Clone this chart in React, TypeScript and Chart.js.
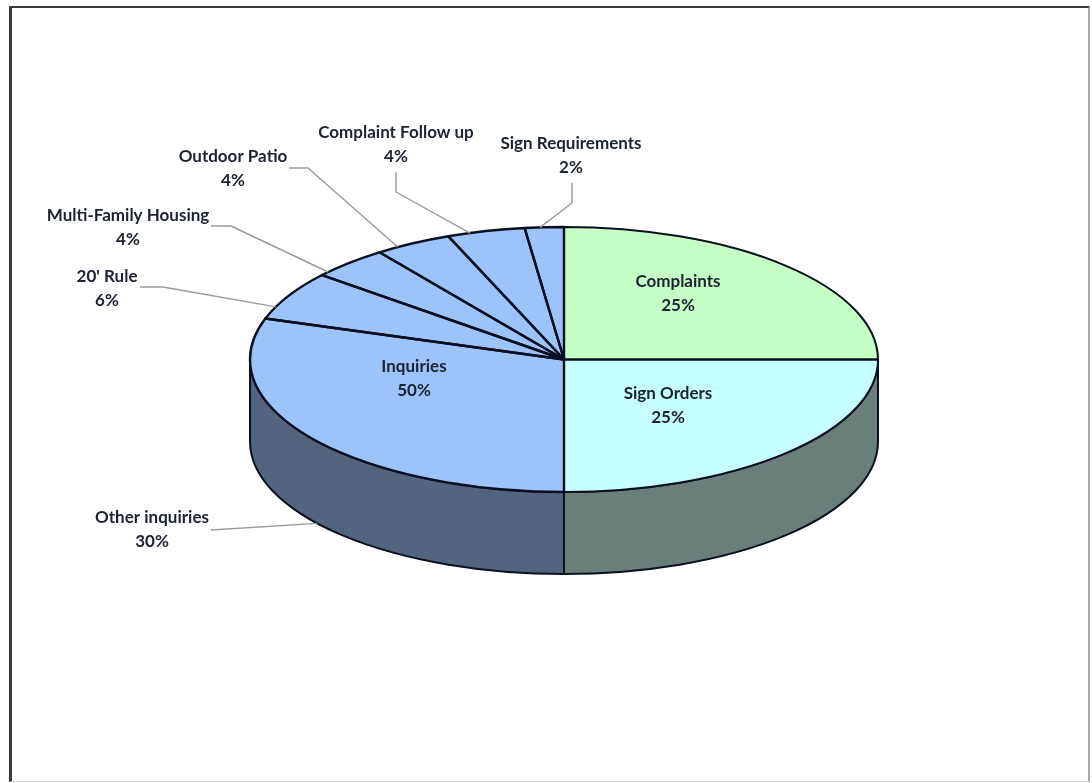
import React, { useEffect, useRef } from "react";
import { Chart, registerables } from "chart.js";

Chart.register(...registerables);

// Slices run clockwise from twelve o'clock.
const categories = [
  "Complaints",
  "Sign Orders",
  "Other inquiries",
  "20' Rule",
  "Multi-Family Housing",
  "Outdoor Patio",
  "Complaint Follow up",
  "Sign Requirements",
];
const shares = [25, 25, 30, 6, 4, 4, 4, 2];
const topColors = ["#c6ffc6", "#c6ffff", "#9dc3fb", "#9dc3fb", "#9dc3fb", "#9dc3fb", "#9dc3fb", "#9dc3fb"];
const wallColors = ["#6b7f7a", "#6b7f7a", "#536480", "#536480", "#536480", "#536480", "#536480", "#536480"];

// The group label sits on the blue area and covers all of the inquiry slices.
const groupName = "Inquiries";
const groupShare = 50;

const WIDTH = 1092;
const HEIGHT = 783;
const CX = 564;
const CY = 359.5;
const RADIUS = 314;
const TILT = 132.5 / 314;
const DEPTH = 82;
const LINE_GAP = 24;
const FONT = "bold 17px Lato, sans-serif";
const TEXT_COLOR = "#1b2230";
const EDGE_COLOR = "#0b1020";
const LEADER_COLOR = "#9a9a9a";

// Text centres for each slice, with leader elbows and where along the slice's rim the leader lands.
const callouts = [
  { x: 678, y: 282 },
  { x: 668, y: 394 },
  { x: 152, y: 518, elbows: [[211, 530]], along: 0.48 },
  { x: 107, y: 277, elbows: [[140, 287], [163, 287]], along: 0.25 },
  { x: 128, y: 216, elbows: [[211, 226], [231, 226]], along: 0.12 },
  { x: 233, y: 157, elbows: [[289, 168], [308, 168]], along: 0.28 },
  { x: 396, y: 133, elbows: [[396, 172], [396, 192]], along: 0.29 },
  { x: 571, y: 144, elbows: [[572, 183], [572, 203]], along: 0.39 },
];
const groupCallout = { x: 414, y: 367 };

const squash = (ctx: CanvasRenderingContext2D, x: number, y: number) => {
  ctx.translate(x, y);
  ctx.scale(1, TILT);
  ctx.translate(-x, -y);
};

const twoLineLabel = (ctx: CanvasRenderingContext2D, name: string, share: number, x: number, y: number) => {
  ctx.fillText(name, x, y);
  ctx.fillText(`${share}%`, x, y + LINE_GAP);
};

// Extrudes the squashed pie: walls go under the slices, edges and callouts on top.
const tiltedPie = {
  id: "tiltedPie",
  beforeDatasetsDraw(chart: any) {
    const ctx: CanvasRenderingContext2D = chart.ctx;
    const arcs = chart.getDatasetMeta(0).data;
    ctx.save();
    ctx.lineWidth = 2;
    ctx.strokeStyle = EDGE_COLOR;
    arcs.forEach((arc: any, i: number) => {
      const from = Math.max(arc.startAngle, 0);
      const to = Math.min(arc.endAngle, Math.PI);
      if (to <= from) return;
      const ry = arc.outerRadius * TILT;
      ctx.beginPath();
      ctx.ellipse(arc.x, arc.y, arc.outerRadius, ry, 0, from, to);
      ctx.ellipse(arc.x, arc.y + DEPTH, arc.outerRadius, ry, 0, to, from, true);
      ctx.closePath();
      ctx.fillStyle = wallColors[i];
      ctx.fill();
      ctx.stroke();
    });
    ctx.restore();
    ctx.save();
    const first = arcs[0];
    squash(ctx, first.x, first.y);
  },
  afterDatasetsDraw(chart: any) {
    const ctx: CanvasRenderingContext2D = chart.ctx;
    ctx.restore();
    const arcs = chart.getDatasetMeta(0).data;

    ctx.save();
    ctx.lineJoin = "round";
    ctx.strokeStyle = EDGE_COLOR;
    arcs.forEach((arc: any, i: number) => {
      // Path is built in squashed space and stroked in page space, so the pen width stays even.
      ctx.save();
      squash(ctx, arc.x, arc.y);
      ctx.beginPath();
      ctx.moveTo(arc.x, arc.y);
      ctx.arc(arc.x, arc.y, arc.outerRadius, arc.startAngle, arc.endAngle);
      ctx.closePath();
      ctx.restore();
      ctx.lineWidth = i >= 2 ? 2.4 : 2;
      ctx.stroke();
    });

    // Leader lines run from the text to the slice rim.
    ctx.strokeStyle = LEADER_COLOR;
    ctx.lineWidth = 1.4;
    arcs.forEach((arc: any, i: number) => {
      const c = callouts[i];
      if (!c.elbows) return;
      const angle = arc.startAngle + (arc.endAngle - arc.startAngle) * c.along;
      const rimX = arc.x + arc.outerRadius * Math.cos(angle);
      const rimY = arc.y + arc.outerRadius * TILT * Math.sin(angle) + (Math.sin(angle) > 0 ? DEPTH : 0);
      ctx.beginPath();
      c.elbows.forEach(([x, y], k) => (k === 0 ? ctx.moveTo(x, y) : ctx.lineTo(x, y)));
      ctx.lineTo(rimX, rimY);
      ctx.stroke();
    });

    ctx.font = FONT;
    ctx.fillStyle = TEXT_COLOR;
    ctx.textAlign = "center";
    ctx.textBaseline = "middle";
    categories.forEach((name, i) => twoLineLabel(ctx, name, shares[i], callouts[i].x, callouts[i].y));
    twoLineLabel(ctx, groupName, groupShare, groupCallout.x, groupCallout.y);
    ctx.restore();
  },
};

export default function App() {
  const ref = useRef<HTMLCanvasElement | null>(null);

  useEffect(() => {
    const chart = new Chart(ref.current as HTMLCanvasElement, {
      type: "pie",
      data: {
        labels: categories,
        datasets: [{ data: shares, backgroundColor: topColors, borderWidth: 0 }],
      },
      options: {
        animation: false,
        responsive: false,
        events: [],
        layout: {
          padding: {
            left: CX - RADIUS,
            right: WIDTH - CX - RADIUS,
            top: CY - RADIUS,
            bottom: HEIGHT - CY - RADIUS,
          },
        },
        plugins: { legend: { display: false }, title: { display: false }, tooltip: { enabled: false } },
      },
      plugins: [tiltedPie],
    } as any);
    return () => chart.destroy();
  }, []);

  return (
    <div style={{ position: "fixed", left: 0, top: 0, width: WIDTH, height: HEIGHT, background: "#fff", overflow: "hidden" }}>
      <canvas ref={ref} width={WIDTH} height={HEIGHT} style={{ position: "absolute", left: 0, top: 0, display: "block" }} />
      <div
        style={{
          position: "absolute",
          left: 9,
          top: 6,
          width: WIDTH - 9 - 2,
          height: HEIGHT - 6 - 1,
          boxSizing: "border-box",
          borderStyle: "solid",
          borderWidth: "2px 2px 1px 3px",
          borderColor: "#3a3a3a #a8a8a8 #d8d8d8 #3a3a3a",
          pointerEvents: "none",
        }}
      />
    </div>
  );
}
